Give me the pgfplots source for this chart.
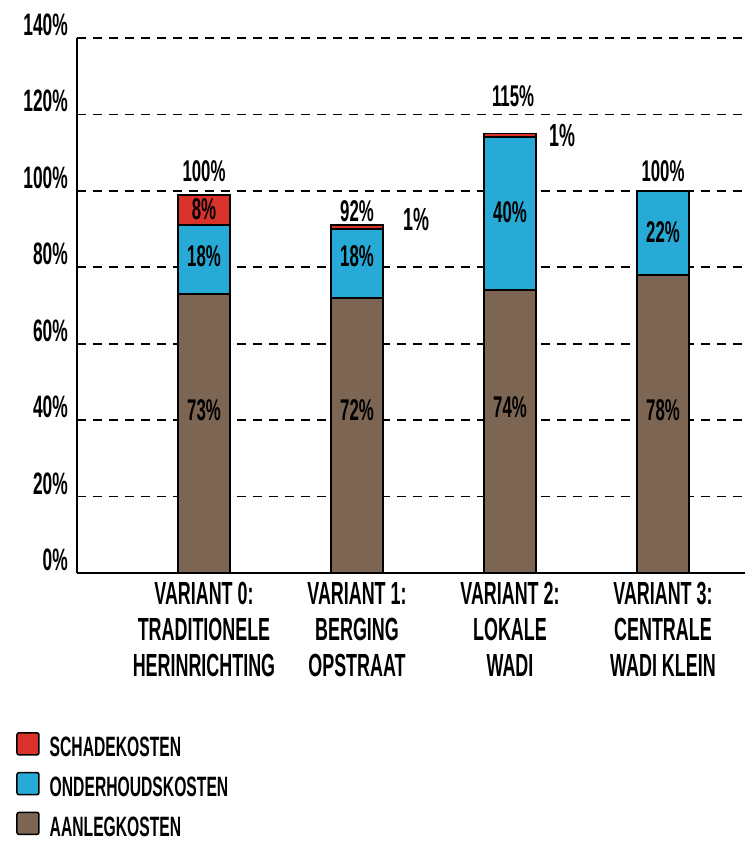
\documentclass[border=0pt]{standalone}
\usepackage{pgfplots}
\pgfplotsset{compat=1.18}
\usepackage{fontspec}
\setmainfont{Liberation Sans}[FakeStretch=0.56, UprightFont={Liberation Sans Bold}]
\definecolor{cRed}{RGB}{216,50,43}
\definecolor{cBlue}{RGB}{40,170,214}
\definecolor{cBrown}{RGB}{124,101,82}
\pgfplotsset{sq/.style={legend image code/.code={\draw[##1, line width=1.5pt, rounded corners=2pt] (0pt,-7pt) rectangle (22pt,15pt);}}}
\tikzset{lbl/.style={font=\fontsize{30}{30}\selectfont}, lblb/.style={font=\fontsize{32}{32}\selectfont}}
\begin{document}
\begin{tikzpicture}
\useasboundingbox (0,0) rectangle (745pt,853pt);
\begin{axis}[
  at={(77pt,280pt)}, anchor=south west,
  scale only axis, width=668pt, height=535pt,
  xmin=-0.83, xmax=3.536, ymin=0, ymax=140,
  axis x line=bottom, axis y line=left,
  axis line style={-, line width=2pt, black},
  major tick length=0pt,
  ytick={0,20,...,140},
  yticklabels={0\%,20\%,40\%,60\%,80\%,100\%,120\%,140\%},
  yticklabel style={anchor=south east, inner sep=0pt, xshift=-9pt, yshift=2pt, font=\fontsize{31}{31}\selectfont},
  xtick={0,1,2,3},
  xticklabels={{VARIANT 0:\\TRADITIONELE\\HERINRICHTING},{VARIANT 1:\\BERGING\\OPSTRAAT},{VARIANT 2:\\LOKALE\\WADI},{VARIANT 3:\\CENTRALE\\WADI KLEIN}},
  xticklabel style={align=center, anchor=north, inner sep=0pt, yshift=-9pt, font=\fontsize{32}{36}\selectfont},
  ymajorgrids, grid style={black, line width=1.8pt, dash pattern=on 9pt off 7pt},
  ybar stacked, bar width=52pt,
  legend cell align=left,
  reverse legend,
  legend style={at={(-0.0913,-0.297)}, anchor=north west, draw=none, fill=none, inner sep=0pt,
    nodes={inner sep=0pt}, row sep=13.5pt, column sep=10pt, font=\fontsize{28}{28}\selectfont},
  clip=false,
  after end axis/.code={
    \node[lbl] at (axis cs:0,42.7) {73\%};
    \node[lbl] at (axis cs:1,42.7) {72\%};
    \node[lbl] at (axis cs:2,43.5) {74\%};
    \node[lbl] at (axis cs:3,42.7) {78\%};
    \node[lbl] at (axis cs:0,83) {18\%};
    \node[lbl] at (axis cs:1,83) {18\%};
    \node[lbl] at (axis cs:2,94.5) {40\%};
    \node[lbl] at (axis cs:3,89.3) {22\%};
    \node[lbl] at (axis cs:0,95.3) {8\%};
    \node[lbl] at (axis cs:0,105.2) {100\%};
    \node[lbl] at (axis cs:1,94.8) {92\%};
    \node[lbl] at (axis cs:2.02,124.8) {115\%};
    \node[lbl] at (axis cs:3,105.2) {100\%};
    \node[lblb] at (axis cs:1.386,92.4) {1\%};
    \node[lblb] at (axis cs:2.34,114.4) {1\%};
  },
]
\addplot[fill=cBrown, draw=black, line width=1.8pt, sq] coordinates {(0,73) (1,72) (2,74) (3,78)};
\addlegendentry{AANLEGKOSTEN}
\addplot[fill=cBlue, draw=black, line width=1.8pt, sq] coordinates {(0,18) (1,18) (2,40) (3,22)};
\addlegendentry{ONDERHOUDSKOSTEN}
\addplot[fill=cRed, draw=black, line width=1.8pt, sq] coordinates {(0,8) (1,1) (2,1) (3,0)};
\addlegendentry{SCHADEKOSTEN}
\end{axis}
\end{tikzpicture}
\end{document}
